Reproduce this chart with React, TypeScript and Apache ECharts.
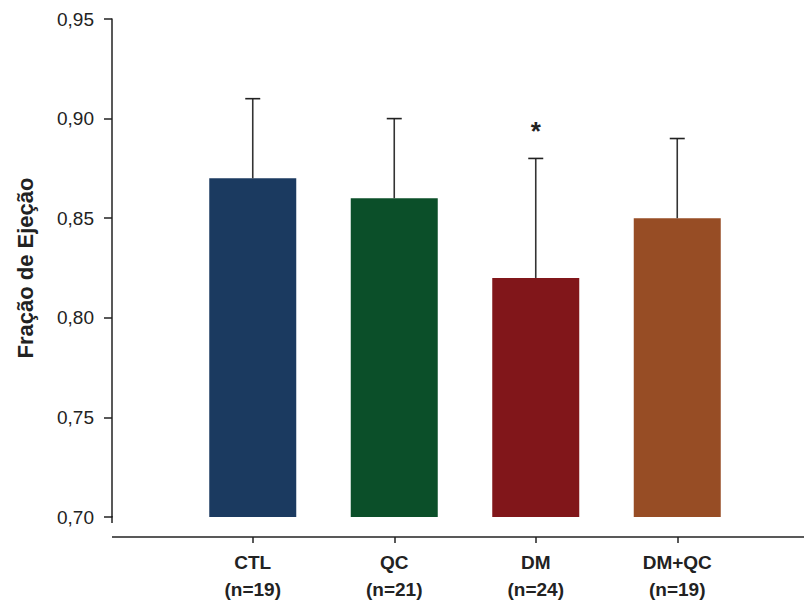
import React, { useEffect, useRef } from "react";
import * as echarts from "echarts";

const categories = ["CTL", "QC", "DM", "DM+QC"];
const sampleSizes = ["(n=19)", "(n=21)", "(n=24)", "(n=19)"];
const means = [0.87, 0.86, 0.82, 0.85];
const upperErrors = [0.91, 0.9, 0.88, 0.89];
const significance = ["", "", "*", ""];
const colors = ["#1b3a60", "#0b4f29", "#81161a", "#974d25"];
const yTicks = { min: 0.7, max: 0.95, interval: 0.05 };
const yTitle = "Fração de Ejeção";

const FONT = "'Liberation Sans', Arial, Helvetica, sans-serif";

export default function App() {
  const ref = useRef<HTMLDivElement>(null);
  useEffect(() => {
    if (!ref.current) return;
    const chart = echarts.init(ref.current, undefined, { renderer: "svg" });
    chart.setOption({
      animation: false,
      backgroundColor: "#ffffff",
      grid: { left: 182, right: 56, top: 19, bottom: 84, containLabel: false, outerBoundsMode: "none" },
      xAxis: {
        type: "category",
        data: categories.map((c, i) => c + "\n" + sampleSizes[i]),
        offset: 20,
        axisLine: { show: false },
        axisTick: { show: true, length: 6, alignWithLabel: true, lineStyle: { color: "#222", width: 1.5 } },
        axisLabel: {
          margin: 12,
          color: "#222",
          fontFamily: FONT,
          fontWeight: "bold",
          fontSize: 19,
          lineHeight: 27,
        },
      },
      yAxis: {
        type: "value",
        min: yTicks.min,
        max: yTicks.max,
        interval: yTicks.interval,
        offset: 70,
        axisLine: { show: true, lineStyle: { color: "#222", width: 1.5 } },
        axisTick: { show: true, length: 8, lineStyle: { color: "#222", width: 1.5 } },
        splitLine: { show: false },
        axisLabel: {
          margin: 18,
          color: "#222",
          fontFamily: FONT,
          fontSize: 19,
          formatter: (v: number) => v.toFixed(2).replace(".", ","),
        },
      },
      graphic: [
        { type: "line", shape: { x1: 112, y1: 537, x2: 804, y2: 537 }, style: { stroke: "#222", lineWidth: 1.5 } },
        { type: "line", shape: { x1: 112, y1: 516, x2: 112, y2: 523 }, style: { stroke: "#222", lineWidth: 1.5 } },
        {
          type: "text",
          x: 25,
          y: 268,
          rotation: Math.PI / 2,
          style: {
            text: yTitle,
            fontFamily: FONT,
            fontWeight: "bold",
            fontSize: 22,
            fill: "#222",
            align: "center",
            verticalAlign: "middle",
          },
        },
      ],
      series: [
        {
          type: "bar",
          barWidth: 87,
          data: means.map((m, i) => ({ value: m, itemStyle: { color: colors[i] } })),
        },
        {
          type: "custom",
          data: categories.map((_, i) => [i, means[i], upperErrors[i], i]),
          renderItem: (params: any, api: any) => {
            const idx = api.value(0);
            const base = api.coord([idx, api.value(1)]);
            const top = api.coord([idx, api.value(2)]);
            const children: any[] = [
              { type: "line", shape: { x1: top[0], y1: base[1], x2: top[0], y2: top[1] }, style: { stroke: "#333", lineWidth: 1.6 } },
              { type: "line", shape: { x1: top[0] - 7.5, y1: top[1], x2: top[0] + 7.5, y2: top[1] }, style: { stroke: "#222", lineWidth: 1.6 } },
            ];
            const sig = significance[api.value(3)];
            if (sig) {
              children.push({
                type: "text",
                x: top[0],
                y: top[1] - 27,
                style: {
                  text: sig,
                  fontFamily: FONT,
                  fontWeight: "bold",
                  fontSize: 26,
                  fill: "#222",
                  align: "center",
                  verticalAlign: "middle",
                },
              });
            }
            return { type: "group", children };
          },
          z: 3,
        },
      ],
    });
    return () => chart.dispose();
  }, []);
  return <div ref={ref} style={{ width: 804, height: 601, position: "absolute", left: 0, top: 0 }} />;
}
